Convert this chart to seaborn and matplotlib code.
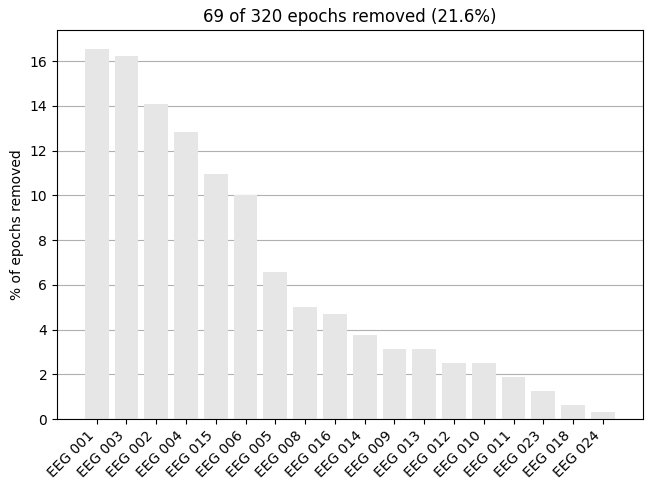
import matplotlib
matplotlib.use("Agg")
import matplotlib.pyplot as plt
import seaborn as sns
import pandas as pd

channels = ["EEG 001", "EEG 003", "EEG 002", "EEG 004", "EEG 015", "EEG 006",
            "EEG 005", "EEG 008", "EEG 016", "EEG 014", "EEG 009", "EEG 013",
            "EEG 012", "EEG 010", "EEG 011", "EEG 023", "EEG 018", "EEG 024"]
counts = [53, 52, 45, 41, 35, 32, 21, 16, 15, 12, 10, 10, 8, 8, 6, 4, 2, 1]
n_total = 320
n_removed = 69

percs = [100.0 * c / n_total for c in counts]
df = pd.DataFrame({"channel": channels, "perc": percs})

fig = plt.figure(figsize=(6.51, 4.91), dpi=100)
ax = fig.add_axes([0.0876, 0.1466, 0.8994, 0.7923])
sns.barplot(data=df, x="channel", y="perc", color=(0.9, 0.9, 0.9),
            saturation=1, width=0.8, ax=ax, zorder=2)
for p in ax.patches:
    p.set_edgecolor("none")
    p.set_linewidth(0)
ax.set_xlim(-1.33, len(channels) - 1 + 1.33)
ax.set_ylim(0, max(percs) * 1.05)
ax.yaxis.grid(True, color="#b0b0b0", linewidth=0.8, zorder=1)
ax.set_axisbelow(True)
ax.set_xlabel("")
ax.set_ylabel("% of epochs removed")
ax.set_title(f"{n_removed} of {n_total} epochs removed ({100.0 * n_removed / n_total:.1f}%)")
plt.setp(ax.get_xticklabels(), rotation=45, ha="right", rotation_mode="default")
for s in ax.spines.values():
    s.set_visible(True)
    s.set_color("black")
fig.savefig("out.png", dpi=100)
